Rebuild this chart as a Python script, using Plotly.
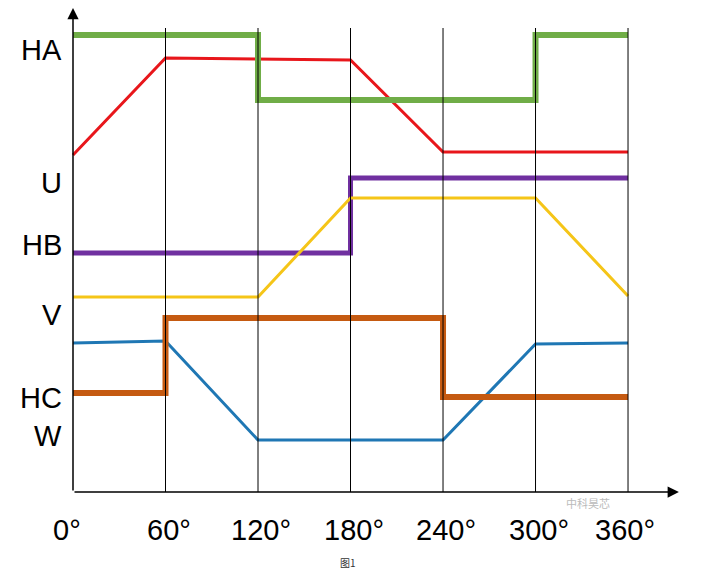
import plotly.graph_objects as go

# angles in degrees, levels (screen rows, top = small)
ha_x = [0, 120, 120, 300, 300, 360]
ha_y = [35, 35, 100, 100, 35, 35]
u_x = [0, 60, 180, 240, 360]
u_y = [155, 58, 60, 152, 152]
hb_x = [0, 180, 180, 360]
hb_y = [253, 253, 178, 178]
v_x = [0, 120, 180, 300, 360]
v_y = [297, 297, 198, 198, 296]
hc_x = [0, 60, 60, 240, 240, 360]
hc_y = [393, 393, 318, 318, 397, 397]
w_x = [0, 60, 120, 240, 300, 360]
w_y = [343, 341, 440, 440, 344, 343]

grid_deg = [60, 120, 180, 240, 300, 360]
tick_text = ["0°", "60°", "120°", "180°", "240°", "300°", "360°"]
tick_pos = [-4, 62, 122, 182, 242, 302, 358]
row_labels = ["HA", "U", "HB", "V", "HC", "W"]
row_pos = [50, 183, 245, 315, 398, 436]

fig = go.Figure()
for d in grid_deg:
    fig.add_shape(type="line", x0=d, x1=d, y0=492, y1=28, line=dict(color="black", width=1))

fig.add_trace(go.Scatter(x=u_x, y=u_y, mode="lines", line=dict(color="#e8161b", width=3)))
fig.add_trace(go.Scatter(x=hb_x, y=hb_y, mode="lines", line=dict(color="#7030a0", width=5)))
fig.add_trace(go.Scatter(x=v_x, y=v_y, mode="lines", line=dict(color="#f5c518", width=3)))
fig.add_trace(go.Scatter(x=w_x, y=w_y, mode="lines", line=dict(color="#1f77b4", width=3)))
fig.add_trace(go.Scatter(x=hc_x, y=hc_y, mode="lines", line=dict(color="#c55a11", width=6)))
fig.add_trace(go.Scatter(x=ha_x, y=ha_y, mode="lines", line=dict(color="#70ad47", width=6)))

# axes with arrows
fig.add_annotation(x=393, y=492, ax=0, ay=492, xref="x", yref="y", axref="x", ayref="y",
                   showarrow=True, arrowhead=2, arrowsize=1.5, arrowwidth=1.5, arrowcolor="black", text="")
fig.add_annotation(x=0, y=8, ax=0, ay=492, xref="x", yref="y", axref="x", ayref="y",
                   showarrow=True, arrowhead=2, arrowsize=1.5, arrowwidth=1.5, arrowcolor="black", text="")

for t, p in zip(row_labels, row_pos):
    fig.add_annotation(x=-6, y=p, xref="x", yref="y", text=t, showarrow=False, xanchor="right",
                       font=dict(size=29, color="black", family="Liberation Sans"))
for t, p in zip(tick_text, tick_pos):
    fig.add_annotation(x=p, y=530, xref="x", yref="y", text=t, showarrow=False,
                       font=dict(size=29, color="black", family="Liberation Sans"))
fig.add_annotation(x=334, y=503, xref="x", yref="y", text="中科昊芯", showarrow=False,
                   font=dict(size=11, color="#bbbbbb", family="Noto Sans CJK SC"))
fig.add_annotation(x=0.5, y=562, xref="paper", yref="y", text="图1", showarrow=False,
                   font=dict(size=10, color="#333333", family="Noto Sans CJK SC"))

fig.update_layout(
    width=703, height=577, showlegend=False,
    paper_bgcolor="white", plot_bgcolor="white",
    margin=dict(l=0, r=23, t=0, b=0),
    xaxis=dict(range=[-42.16, 398.9], visible=False),
    yaxis=dict(range=[585, 8], visible=False),
)
fig.write_html("out.html")
